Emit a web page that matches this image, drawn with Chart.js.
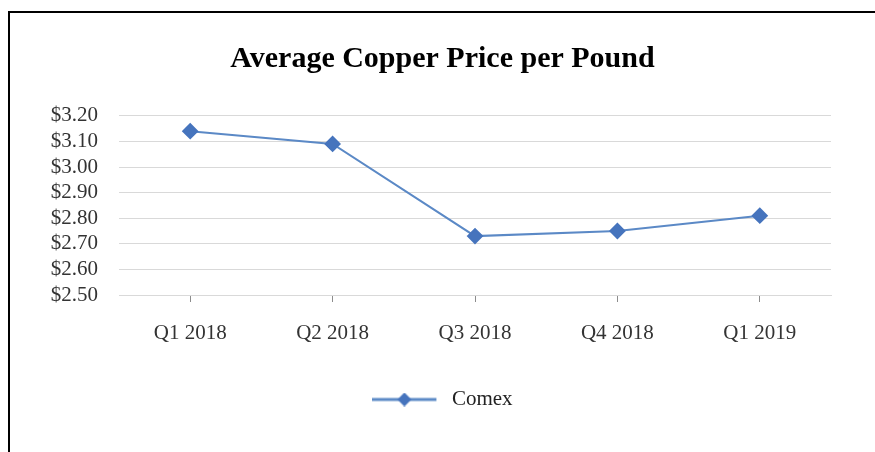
<!DOCTYPE html>
<html>
<head>
<meta charset="utf-8">
<script src="https://cdn.jsdelivr.net/npm/chart.js@4.4.1/dist/chart.umd.min.js"></script>
<style>
  html, body { margin: 0; padding: 0; background: #ffffff; }
  #frame {
    position: absolute; left: 8px; top: 11px;
    width: 865px; height: 439px;
    border-left: 2px solid #000; border-top: 2px solid #000;
    background: #fff;
  }
  canvas { display: block; }
</style>
</head>
<body>
<div id="frame"><canvas id="c" width="865" height="439"></canvas></div>
<script>
const categories = ['Q1 2018', 'Q2 2018', 'Q3 2018', 'Q4 2018', 'Q1 2019'];
const comexPrices = [3.14, 3.09, 2.73, 2.75, 2.81];
const seriesName = 'Comex';
const chartTitle = 'Average Copper Price per Pound';
const yMin = 2.50, yMax = 3.20, yStep = 0.10;

const LINE = '#5b89c6';
const MARK = '#4674bd';
const SERIF = '"Liberation Serif", "Times New Roman", serif';

// legend symbol: line with diamond
function legendSymbol() {
  const w = 69, h = 14;
  const cv = document.createElement('canvas');
  cv.width = w; cv.height = h;
  const x = cv.getContext('2d');
  x.strokeStyle = LINE; x.lineWidth = 3;
  x.beginPath(); x.moveTo(0, h/2); x.lineTo(64, h/2); x.stroke();
  x.fillStyle = MARK;
  x.beginPath(); x.moveTo(32, 0); x.lineTo(39, h/2); x.lineTo(32, h); x.lineTo(25, h/2); x.closePath(); x.fill();
  return cv;
}
const sym = legendSymbol();

new Chart(document.getElementById('c'), {
  type: 'line',
  data: {
    labels: categories,
    datasets: [{
      label: seriesName,
      data: comexPrices,
      borderColor: LINE,
      backgroundColor: MARK,
      borderWidth: 2,
      pointStyle: 'rectRot',
      pointRadius: 7,
      pointHoverRadius: 7,
      pointBackgroundColor: MARK,
      pointBorderColor: MARK,
      tension: 0
    }]
  },
  options: {
    responsive: false,
    animation: false,
    layout: { padding: { left: 0, right: 0, top: 0, bottom: 32 } },
    plugins: {
      title: {
        display: true,
        text: chartTitle,
        color: '#000',
        font: { family: SERIF, size: 30, weight: 'bold' },
        padding: { top: 28.5, bottom: 38.3 }
      },
      legend: {
        position: 'bottom',
        labels: {
          usePointStyle: true,
          pointStyle: sym,
          pointStyleWidth: 69,
          color: '#222',
          font: { family: SERIF, size: 21 },
          padding: 10,
          generateLabels: (chart) => [{
            text: seriesName, pointStyle: sym, fillStyle: MARK, strokeStyle: LINE,
            lineWidth: 0, datasetIndex: 0, hidden: false, fontColor: '#222'
          }]
        }
      },
      tooltip: { enabled: false }
    },
    scales: {
      x: {
        offset: true,
        grid: { drawOnChartArea: false, drawTicks: true, tickLength: 7, color: '#8c8c8c', lineWidth: 1 },
        border: { display: true, color: '#d9d9d9' },
        ticks: { color: '#333', font: { family: SERIF, size: 21 }, padding: 19, maxRotation: 0, autoSkip: false },
        afterFit: (s) => { s.height = 84; }
      },
      y: {
        min: yMin, max: yMax,
        grid: { color: '#d9d9d9', lineWidth: 1, drawTicks: false },
        border: { display: false },
        ticks: {
          stepSize: yStep,
          autoSkip: false,
          color: '#333',
          font: { family: SERIF, size: 21 },
          padding: 21,
          callback: (v) => '$' + Number(v).toFixed(2)
        },
        afterFit: (s) => { s.width = 109; }
      },
      yRight: {
        position: 'right',
        display: true,
        min: yMin, max: yMax,
        grid: { display: false },
        border: { display: false },
        ticks: { display: false },
        afterFit: (s) => { s.width = 44; }
      }
    }
  }
});
</script>
</body>
</html>
